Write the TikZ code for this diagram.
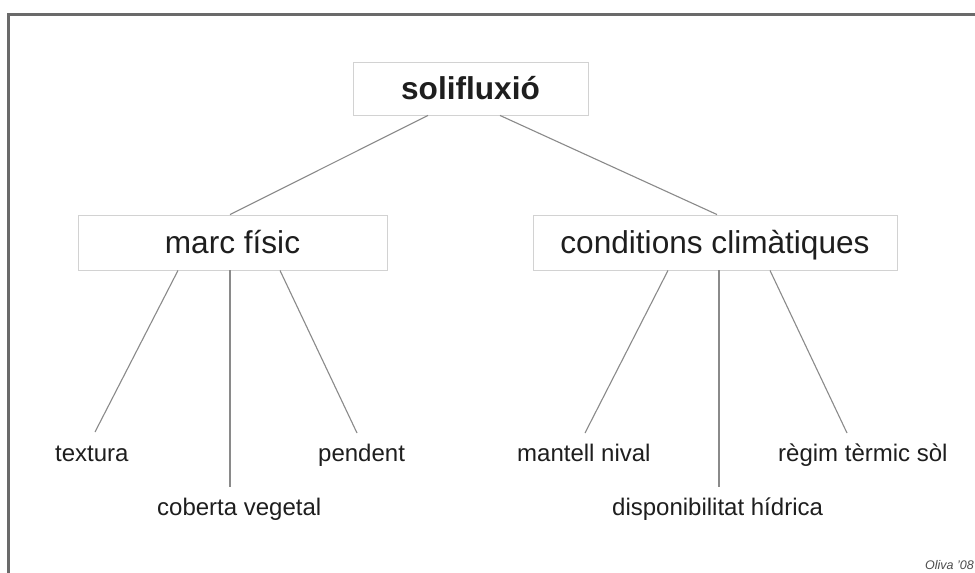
\documentclass[tikz,border=0pt]{standalone}
\usepackage{fontspec}
\setmainfont{Liberation Sans}
\definecolor{boxgray}{HTML}{D2D2D2}
\definecolor{linegray}{HTML}{8A8A8A}
\definecolor{txt}{HTML}{1E1E1E}
\definecolor{framegray}{HTML}{6A6A6A}
\begin{document}
\begin{tikzpicture}[x=1pt,y=-1pt,
 box/.style={draw=boxgray, line width=0.9pt, fill=white, inner sep=0pt,
   font=\fontsize{31.6}{36}\selectfont, text=txt, text height=22.6pt, text depth=0pt},
 small/.style={font=\fontsize{24}{28}\selectfont, text=txt, anchor=base west, inner sep=0pt},
 conn/.style={draw=linegray, line width=1.1pt}]
\useasboundingbox (0,0) rectangle (975,573);
\clip (0,0) rectangle (975,573);
\fill[white] (0,0) rectangle (975,573);
% frame
\draw[framegray, line width=3pt] (8.5,573) -- (8.5,14) -- (975,14);
% boxes
\node[box, minimum width=235pt, minimum height=53pt] (sol) at (470.5,88.5) {\bfseries solifluxió};
\node[box, minimum width=309pt, minimum height=55pt] (mf) at (232.5,242.5) {marc físic};
\node[box, minimum width=364pt, minimum height=55pt] (cc) at (715,242.5) {conditions climàtiques};
% labels
\node[small] (tex) at (55,461) {textura};
\node[small] (cob) at (157,515) {coberta vegetal};
\node[small] (pen) at (318,461) {pendent};
\node[small] (man) at (517,461) {mantell nival};
\node[small] (dis) at (612,515) {disponibilitat hídrica};
\node[small] (reg) at (778,461) {règim tèrmic sòl};
\node[font=\fontsize{12.5}{14}\selectfont\itshape, text=black!70, anchor=base west, inner sep=0pt] (sig) at (925,569) {Oliva '08};
% end points of connectors
\coordinate (etex) at (95,432);
\coordinate (ecob) at (230,487);
\coordinate (epen) at (357,433);
\coordinate (eman) at (585,433);
\coordinate (edis) at (719,487);
\coordinate (ereg) at (847,433);
% connectors
\draw[conn] ([xshift=-42.5pt]sol.south) -- ([xshift=-2.5pt]mf.north);
\draw[conn] ([xshift=29.5pt]sol.south) -- ([xshift=2pt]cc.north);
\draw[conn] ([xshift=-54.5pt]mf.south) -- (etex);
\draw[conn] ([xshift=-2.5pt]mf.south) -- (ecob);
\draw[conn] ([xshift=47.5pt]mf.south) -- (epen);
\draw[conn] ([xshift=-47pt]cc.south) -- (eman);
\draw[conn] ([xshift=4pt]cc.south) -- (edis);
\draw[conn] ([xshift=55pt]cc.south) -- (ereg);
\end{tikzpicture}
\end{document}
